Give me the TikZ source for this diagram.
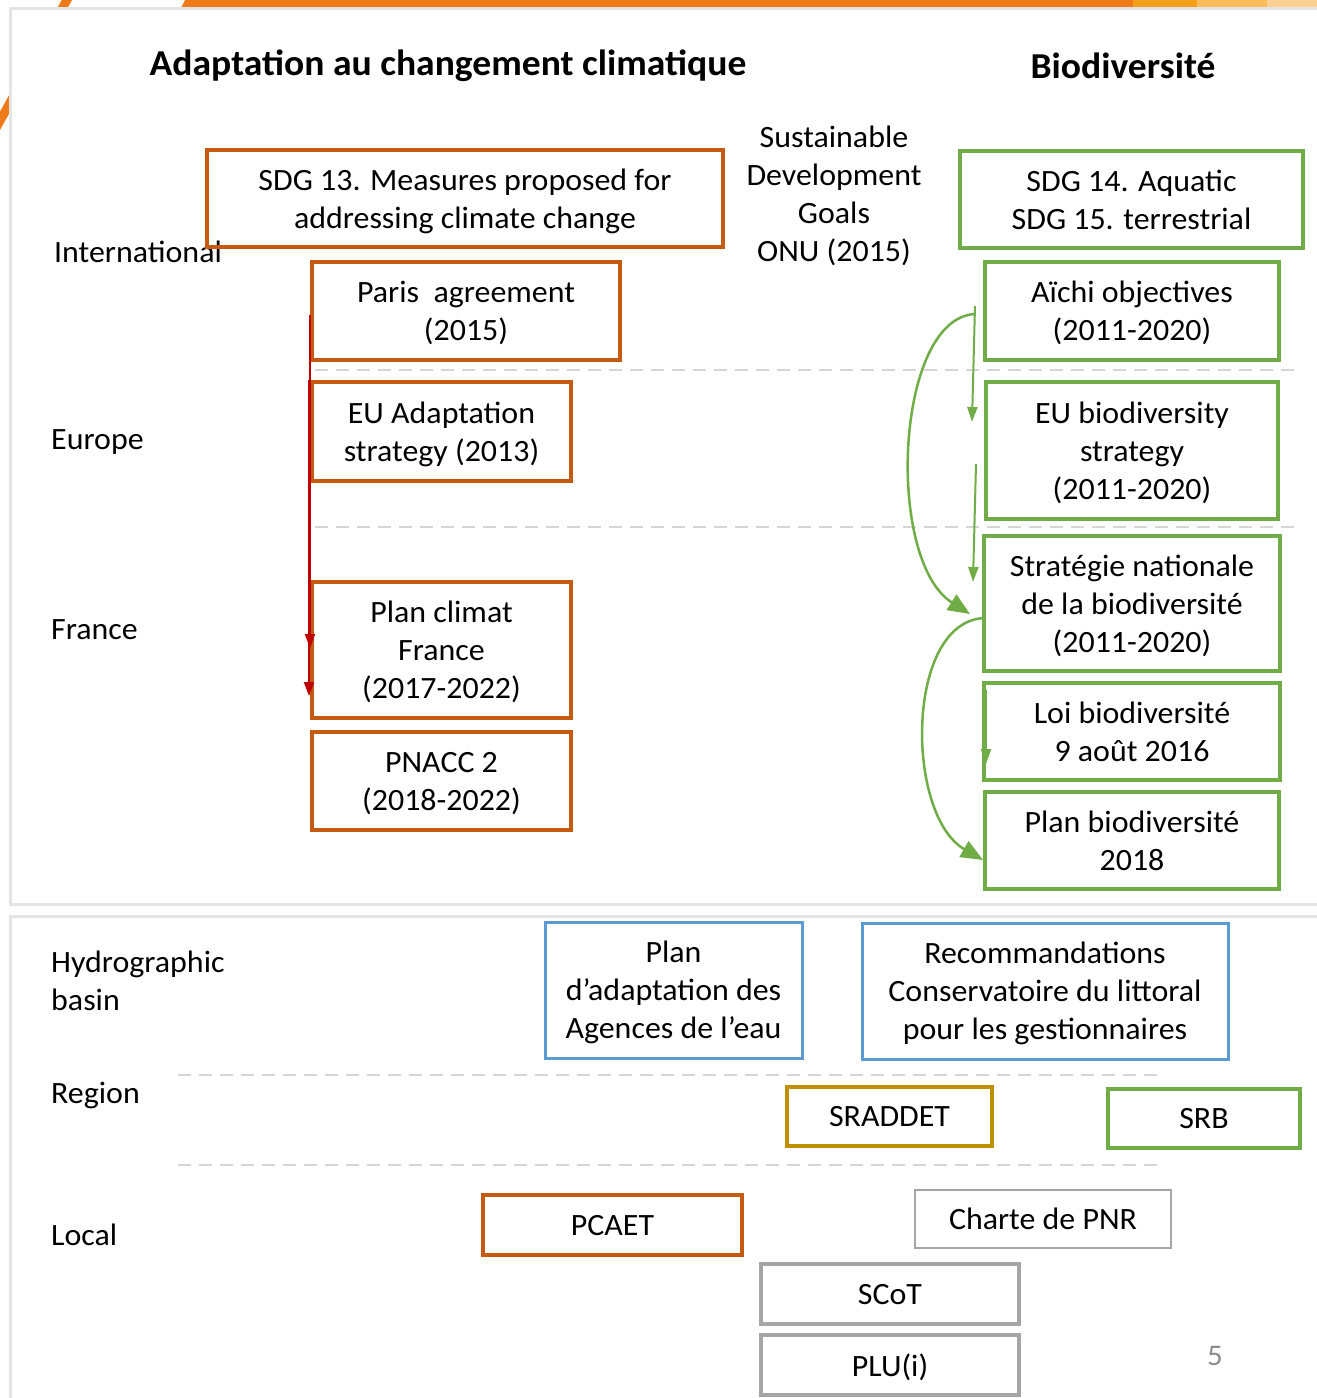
\documentclass[tikz,border=0pt]{standalone}
\usepackage{fontspec}
\setmainfont{Carlito}[FakeStretch=1.03]
\usetikzlibrary{arrows.meta}
\definecolor{orgbox}{HTML}{C55A11}
\definecolor{grnbox}{HTML}{70AD47}
\definecolor{blubox}{HTML}{5B9BD5}
\definecolor{goldbox}{HTML}{BF9000}
\definecolor{graybox}{HTML}{A5A5A5}
\definecolor{panelgray}{HTML}{E4E4E4}
\definecolor{dashgray}{HTML}{D6D6D6}
\definecolor{redarr}{HTML}{C00000}
\definecolor{barA}{HTML}{EF7A1A}
\definecolor{barB}{HTML}{F5A01A}
\definecolor{barC}{HTML}{F9BD5C}
\definecolor{barD}{HTML}{FBD090}
\tikzset{
  bx/.style={draw, line width=4, inner sep=0, align=center, font=\fontsize{31}{38}\selectfont, text depth=0pt},
  obox/.style={bx, draw=orgbox},
  gbox/.style={bx, draw=grnbox},
  bbox/.style={bx, draw=blubox, line width=3},
  ybox/.style={bx, draw=goldbox},
  sbox/.style={bx, draw=graybox},
  tbox/.style={bx, draw=graybox, line width=2},
  lbl/.style={anchor=base west, inner sep=0, font=\fontsize{31}{38}\selectfont},
  ttl/.style={inner sep=0, font=\fontsize{36.5}{40}\bfseries\selectfont},
  dline/.style={dashgray, line width=2, dash pattern=on 13pt off 8pt},
  garr/.style={grnbox, line width=2.5, -{Triangle[length=22,width=18]}},
  garrs/.style={grnbox, line width=2, -{Triangle[length=15,width=10]}},
  rarr/.style={redarr, line width=2, -{Triangle[length=14,width=10]}},
}
\begin{document}
\begin{tikzpicture}[x=1pt,y=-1pt]
\useasboundingbox (0,0) rectangle (1317,1398);
\clip (0,0) rectangle (1317,1398);
% background decoration
\fill[barA] (185,0) -- (1133,0) -- (1133,8) -- (181,8) -- cycle;
\fill[barB] (1133,0) rectangle (1197,8);
\fill[barC] (1197,0) rectangle (1267,8);
\fill[barD] (1267,0) rectangle (1317,8);
\draw[barA, line width=9] (68,-2) -- (-4,128);
% panels
\draw[panelgray, fill=white, line width=3] (10,8) rectangle (1330,904);
\draw[panelgray, fill=white, line width=3] (10,916) rectangle (1330,1410);
% titles
\node[ttl] (t1) at (448,66) {Adaptation au changement climatique};
\node[ttl] (t2) at (1123,66) {Biodiversité};
% row labels
\node[lbl] (lint) at (54,262) {International};
\node[lbl] (leur) at (51,449) {Europe};
\node[lbl] (lfra) at (51,639) {France};
\node[lbl, align=left, anchor=north west] (lhyd) at (51,951) {Hydrographic\\basin};
\node[lbl] (lreg) at (51,1103) {Region};
\node[lbl] (lloc) at (51,1245) {Local};
% SDG middle text
\node[inner sep=0, align=center, font=\fontsize{31}{38}\selectfont] (sdg) at (834,196) {Sustainable\\Development\\Goals\\ONU (2015)};
% dashed separators
\draw[dline] (315,370) -- (1300,370);
\draw[dline] (315,527) -- (1300,527);
\draw[dline] (178,1075) -- (1160,1075);
\draw[dline] (178,1165) -- (1160,1165);
% orange boxes
\node[obox, minimum width=516, minimum height=97] (sdg13) at (465,198.5) {SDG 13. Measures proposed for\\addressing climate change};
\node[obox, minimum width=308, minimum height=98] (paris) at (466,311) {Paris\ \ agreement\\(2015)};
\node[obox, minimum width=259, minimum height=99] (euad) at (441.5,431.5) {EU Adaptation\\strategy (2013)};
\node[obox, minimum width=259, minimum height=136] (pcf) at (441.5,650) {Plan climat\\France\\(2017-2022)};
\node[obox, minimum width=259, minimum height=98] (pnacc) at (441.5,781) {PNACC 2\\(2018-2022)};
% green boxes
\node[gbox, minimum width=343, minimum height=97] (sdg14) at (1131.5,199.5) {SDG 14. Aquatic\\SDG 15. terrestrial};
\node[gbox, minimum width=294, minimum height=98] (aichi) at (1132,311) {Aïchi objectives\\(2011-2020)};
\node[gbox, minimum width=292, minimum height=137] (eubio) at (1132,450.5) {EU biodiversity\\strategy\\(2011-2020)};
\node[gbox, minimum width=296, minimum height=135] (snb) at (1132,603.5) {Stratégie nationale\\de la biodiversité\\(2011-2020)};
\node[gbox, minimum width=296, minimum height=97] (loi) at (1132,731.5) {Loi biodiversité\\9 août 2016};
\node[gbox, minimum width=294, minimum height=97] (pbio) at (1132,840.5) {Plan biodiversité\\2018};
% blue boxes
\node[bbox, minimum width=257, minimum height=136] (pada) at (673.5,990) {Plan\\d’adaptation des\\Agences de l’eau};
\node[bbox, minimum width=366, minimum height=136] (reco) at (1045,991) {Recommandations\\Conservatoire du littoral\\pour les gestionnaires};
% region
\node[ybox, minimum width=205, minimum height=59] (sraddet) at (889.5,1116.5) {SRADDET};
\node[gbox, minimum width=192, minimum height=59] (srb) at (1204,1118.5) {SRB};
% local
\node[obox, minimum width=259, minimum height=60] (pcaet) at (612.5,1225) {PCAET};
\node[tbox, minimum width=256, minimum height=58] (pnr) at (1043,1219) {Charte de PNR};
\node[sbox, minimum width=258, minimum height=60] (scot) at (890,1294) {SCoT};
\node[sbox, minimum width=258, minimum height=60] (plu) at (890,1365) {PLU(i)};
% page number
\node[inner sep=0, text=graybox!85!black, font=\fontsize{30}{34}\selectfont] (pg) at (1215,1356) {5};
% red arrows
\coordinate (r1s) at (310,315);
\coordinate (r1e) at (310,648);
\coordinate (r2s) at (309,380);
\coordinate (r2e) at (309,696);
\draw[rarr] (r1s) -- (r1e);
\draw[rarr] (r2s) -- (r2e);
% green arrows
\coordinate (g1s) at (975,306);
\coordinate (g1e) at (972,422);
\coordinate (g2s) at (976,464);
\coordinate (g2e) at (973,582);
\coordinate (g3s) at (975,314);
\coordinate (g3e) at (970,614);
\coordinate (g4s) at (984,618);
\coordinate (g4e) at (983,860);
\coordinate (g5s) at (986,690);
\coordinate (g5e) at (986,764);
\draw[garrs] (g1s) -- (g1e);
\draw[garrs] (g2s) -- (g2e);
\draw[garr] (g3s) .. controls (895,318) and (885,560) .. (g3e);
\draw[garr] (g4s) .. controls (905,622) and (905,815) .. (g4e);
\draw[garrs] (g5s) -- (g5e);
\end{tikzpicture}
\end{document}
